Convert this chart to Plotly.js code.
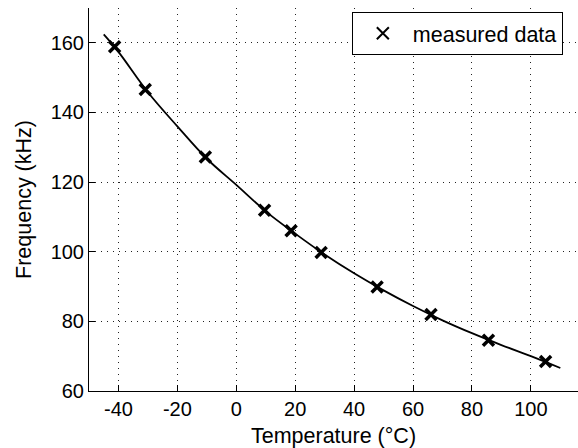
<!DOCTYPE html>
<html>
<head>
<meta charset="utf-8">
<script src="https://cdn.plot.ly/plotly-3.0.1.min.js"></script>
<style>html,body{margin:0;padding:0;background:#fff;}#chart{width:578px;height:448px;}</style>
</head>
<body>
<div id="chart"></div>
<script>
// measured points
const tempMeasured = [-41.3, -30.9, -10.5, 9.6, 18.6, 28.8, 47.8, 66.1, 85.6, 105.0];
const freqMeasured = [158.9, 146.6, 127.2, 111.9, 106.0, 99.8, 89.9, 82.0, 74.6, 68.5];
// fitted curve
const tempFit = [-45, -40, -30, -20, -10, 0, 10, 20, 30, 40, 50, 60, 70, 80, 90, 100, 110];
const freqFit = [162.4, 157.4, 145.8, 136.0, 126.7, 119.2, 111.6, 105.2, 99.2, 93.8, 88.9, 84.4, 80.3, 76.6, 73.2, 70.0, 66.6];
const xTicks = [-40, -20, 0, 20, 40, 60, 80, 100];
const yTicks = [60, 80, 100, 120, 140, 160];

const FONT = 'Liberation Sans, Arial, Helvetica, sans-serif';

const traces = [
  {
    x: tempFit, y: freqFit, type: 'scatter', mode: 'lines',
    line: {color: '#000', width: 1.8, shape: 'spline'},
    showlegend: false, hoverinfo: 'skip'
  },
  {
    x: tempMeasured, y: freqMeasured, type: 'scatter', mode: 'markers',
    name: 'measured data',
    marker: {symbol: 'x-thin', size: 11, color: '#000', line: {color: '#000', width: 3.5}}
  }
];

const axisCommon = {
  showline: true, linecolor: '#000', linewidth: 1,
  ticks: 'inside', ticklen: 6, tickcolor: '#000', tickwidth: 1,
  showgrid: true, gridcolor: '#222', gridwidth: 1, griddash: '1px,5px',
  zeroline: false, mirror: false,
  tickfont: {family: FONT, size: 20, color: '#000'}
};

const layout = {
  width: 578, height: 448,
  margin: {l: 89, r: 0, t: 8, b: 57},
  paper_bgcolor: '#fff', plot_bgcolor: '#fff',
  font: {family: FONT, color: '#000'},
  xaxis: Object.assign({}, axisCommon, {
    range: [-50, 116], tickvals: xTicks, ticktext: xTicks.map(String),
    title: {text: 'Temperature (°C)', font: {family: FONT, size: 21.5, color: '#000'}, standoff: 10}
  }),
  yaxis: Object.assign({}, axisCommon, {
    range: [60, 170], tickvals: yTicks, ticktext: yTicks.map(String),
    title: {text: 'Frequency (kHz)', font: {family: FONT, size: 21.5, color: '#000'}, standoff: 13}
  }),
  showlegend: true,
  legend: {
    x: 0.969, y: 0.99, xanchor: 'right', yanchor: 'top',
    bgcolor: '#fff', bordercolor: '#000', borderwidth: 1,
    font: {family: FONT, size: 21.5, color: '#000'},
    itemsizing: 'constant', itemwidth: 50
  }
};

Plotly.newPlot('chart', traces, layout, {displayModeBar: false, staticPlot: true});
</script>
</body>
</html>
